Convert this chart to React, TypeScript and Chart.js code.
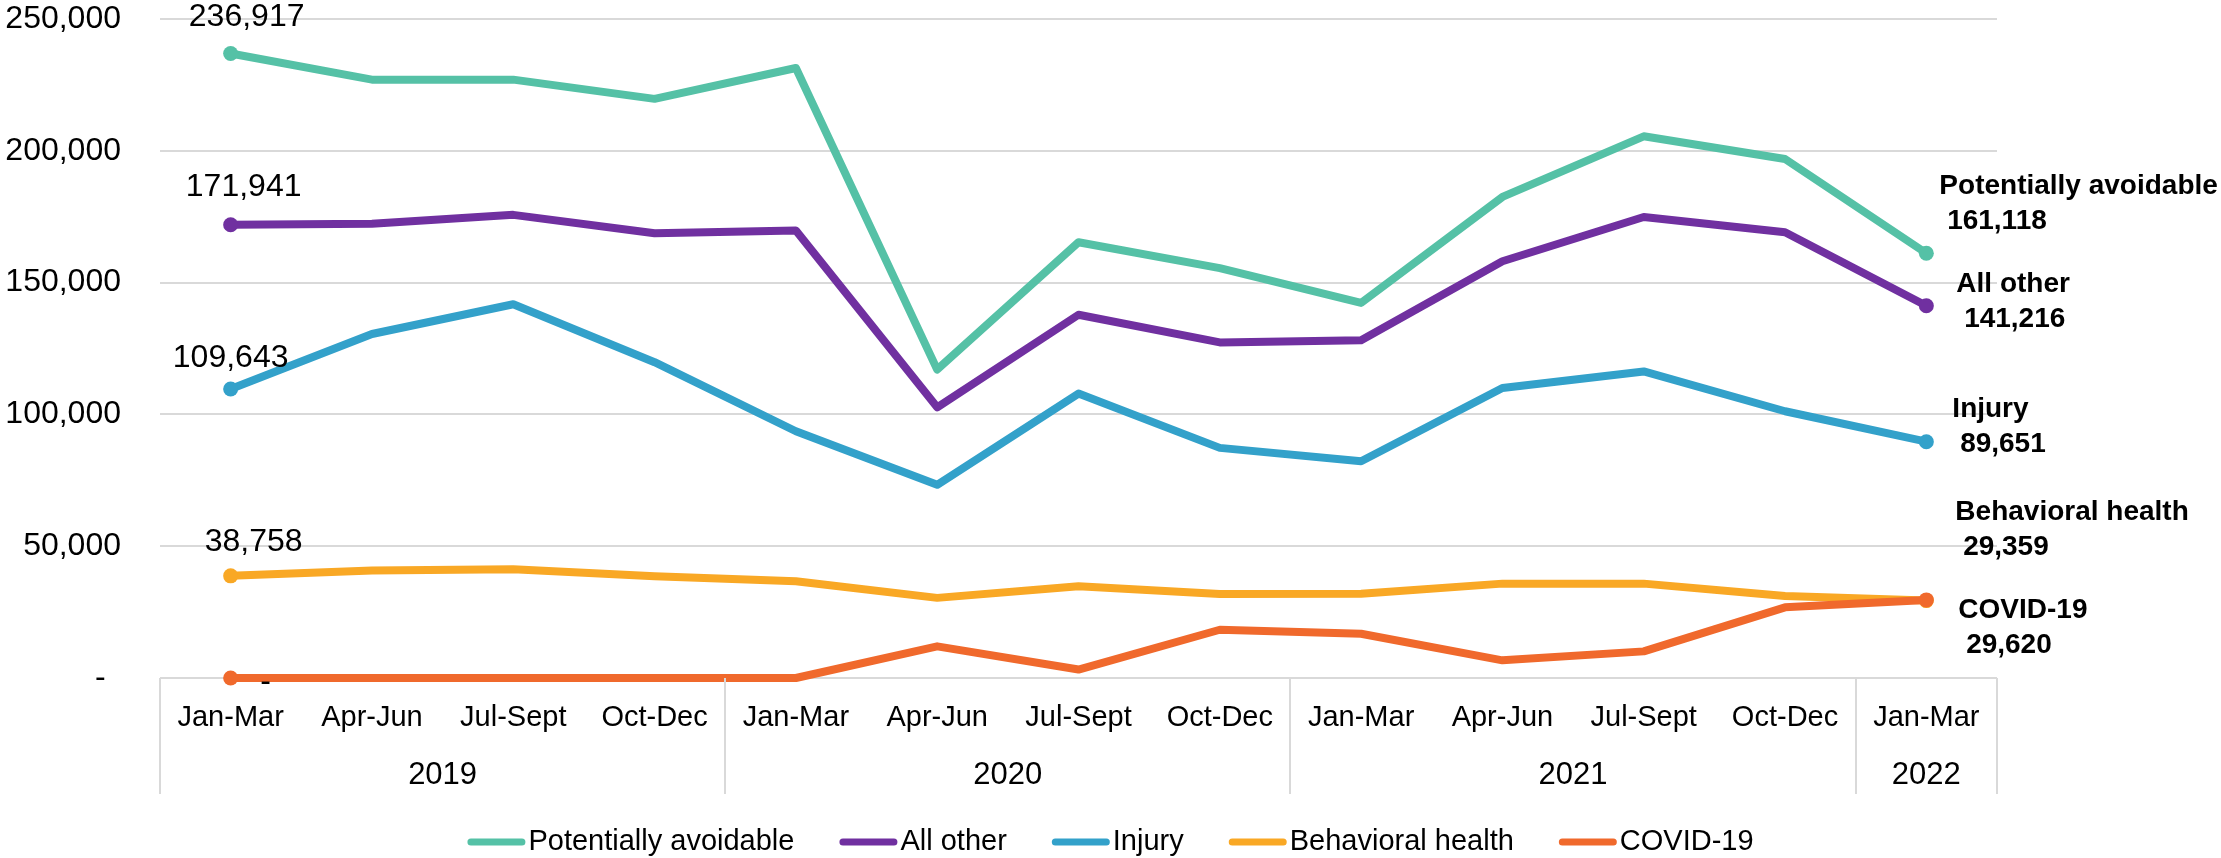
import React, { useEffect, useRef } from 'react';
import { Chart, registerables } from 'chart.js';

Chart.register(...registerables);

// ---------- DATA ----------
const quarters = ['Jan-Mar', 'Apr-Jun', 'Jul-Sept', 'Oct-Dec', 'Jan-Mar', 'Apr-Jun', 'Jul-Sept', 'Oct-Dec', 'Jan-Mar', 'Apr-Jun', 'Jul-Sept', 'Oct-Dec', 'Jan-Mar'];
const years = ['2019', '2020', '2021', '2022'];
const quartersPerYear = [4, 4, 4, 1];

const seriesNames = ['Potentially avoidable', 'All other', 'Injury', 'Behavioral health', 'COVID-19'];
const potentiallyAvoidable = [236917, 227000, 227000, 219700, 231400, 117000, 165300, 155500, 142300, 182500, 205500, 196900, 161118];
const allOther = [171941, 172300, 175700, 168700, 169800, 102700, 137800, 127300, 128100, 158100, 174900, 169100, 141216];
const injury = [109643, 130500, 141800, 119800, 93600, 73300, 107900, 87300, 82200, 110000, 116300, 101200, 89651];
const behavioralHealth = [38758, 40800, 41300, 38600, 36700, 30400, 34800, 31900, 32000, 35800, 35800, 31100, 29359];
const covid19 = [0, 0, 0, 0, 0, 12000, 3200, 18300, 16800, 6700, 10100, 26800, 29620];

const yMin = 0;
const yMax = 250000;
const yStep = 50000;

// ---------- STYLE ----------
const FONT = "'Liberation Sans', Arial, sans-serif";
const colors = ['#55C1A6', '#7030A0', '#33A1CA', '#F9A825', '#F0692C'];
const firstLabelOffsets = [
  { dx: 16, dy: -36 },
  { dx: 13, dy: -38 },
  { dx: 0, dy: -31 },
  { dx: 23, dy: -34 },
  { dx: 35, dy: 4 },
];
const endLabelOffsets = [
  { dx: 13, dy: -67 },
  { dx: 30, dy: -21 },
  { dx: 26, dy: -32 },
  { dx: 29, dy: -88 },
  { dx: 32, dy: 10 },
];

const fmt = (v: number) => (v === 0 ? '-' : v.toLocaleString('en-US'));

const overlayPlugin = {
  id: 'overlay',
  afterDraw(chart: any) {
    const ctx: CanvasRenderingContext2D = chart.ctx;
    const xs = chart.scales.x;
    const area = chart.chartArea;
    ctx.save();

    // group separators under the axis
    ctx.strokeStyle = '#d9d9d9';
    ctx.lineWidth = 2;
    let idx = 0;
    const bounds = [0];
    quartersPerYear.forEach((n) => {
      idx += n;
      bounds.push(idx);
    });
    bounds.forEach((b) => {
      const px = Math.round(xs.getPixelForValue(b - 0.5));
      ctx.beginPath();
      ctx.moveTo(px, area.bottom);
      ctx.lineTo(px, area.bottom + 116);
      ctx.stroke();
    });

    // year labels
    ctx.fillStyle = '#000';
    ctx.font = `31px ${FONT}`;
    ctx.textAlign = 'center';
    ctx.textBaseline = 'middle';
    let start = 0;
    years.forEach((y, i) => {
      const end = start + quartersPerYear[i] - 1;
      const cx = (xs.getPixelForValue(start) + xs.getPixelForValue(end)) / 2;
      ctx.fillText(y, cx, area.bottom + 97);
      start = end + 1;
    });

    // first-point labels
    ctx.font = `32px ${FONT}`;
    chart.data.datasets.forEach((ds: any, i: number) => {
      const meta = chart.getDatasetMeta(i);
      const p = meta.data[0];
      const o = firstLabelOffsets[i];
      ctx.fillText(fmt(ds.data[0]), p.x + o.dx, p.y + o.dy);
    });

    // end labels
    ctx.font = `bold 28px ${FONT}`;
    ctx.textAlign = 'left';
    chart.data.datasets.forEach((ds: any, i: number) => {
      const meta = chart.getDatasetMeta(i);
      const last = ds.data.length - 1;
      const p = meta.data[last];
      const o = endLabelOffsets[i];
      ctx.fillText(ds.label, p.x + o.dx, p.y + o.dy);
      ctx.fillText(' ' + fmt(ds.data[last]), p.x + o.dx, p.y + o.dy + 35);
    });

    // legend
    ctx.font = `29px ${FONT}`;
    const boxW = 58;
    const gapBox = 3;
    const gapItem = 45;
    const widths = seriesNames.map((n) => ctx.measureText(n).width);
    const total = widths.reduce((a, w) => a + boxW + gapBox + w, 0) + gapItem * (seriesNames.length - 1);
    let lx = chart.width / 2 - total / 2;
    const ly = 842;
    seriesNames.forEach((n, i) => {
      ctx.strokeStyle = colors[i];
      ctx.lineWidth = 7;
      ctx.lineCap = 'round';
      ctx.beginPath();
      ctx.moveTo(lx + 3.5, ly);
      ctx.lineTo(lx + boxW - 3.5, ly);
      ctx.stroke();
      ctx.fillStyle = '#000';
      ctx.fillText(n, lx + boxW + gapBox, ly);
      lx += boxW + gapBox + widths[i] + gapItem;
    });

    ctx.restore();
  },
};

export default function App() {
  const ref = useRef<HTMLCanvasElement | null>(null);

  useEffect(() => {
    document.body.style.margin = '0';
    const canvas = ref.current;
    if (!canvas) return;
    const seriesData = [potentiallyAvoidable, allOther, injury, behavioralHealth, covid19];
    const last = quarters.length - 1;
    const chart = new Chart(canvas, {
      type: 'line',
      data: {
        labels: quarters,
        datasets: seriesData.map((d, i) => ({
          label: seriesNames[i],
          data: d,
          borderColor: colors[i],
          backgroundColor: colors[i],
          borderWidth: 8,
          borderJoinStyle: 'round',
          pointRadius: quarters.map((_, j) => (j === 0 || j === last ? 7.5 : 0)),
          pointBackgroundColor: colors[i],
          pointBorderWidth: 0,
          pointHoverRadius: 0,
          tension: 0,
          clip: false,
          order: i === 4 ? -1 : 0,
        })),
      },
      options: {
        responsive: false,
        animation: false,
        events: [],
        layout: { padding: { left: 0, right: 224, top: 0, bottom: 0 } },
        plugins: {
          legend: { display: false },
          tooltip: { enabled: false },
        },
        scales: {
          x: {
            type: 'category',
            offset: true,
            grid: { display: false, drawTicks: false },
            border: { display: false },
            ticks: {
              color: '#000',
              font: { family: FONT, size: 29 },
              padding: 23,
              maxRotation: 0,
              autoSkip: false,
            },
            afterFit: (s: any) => {
              s.height = 180;
              s.paddingLeft = 0;
              s.paddingRight = 0;
            },
          },
          y: {
            min: yMin,
            max: yMax,
            grid: { color: '#d9d9d9', lineWidth: 2, drawTicks: false },
            border: { display: false },
            ticks: {
              stepSize: yStep,
              color: '#000',
              padding: 39,
              font: { family: FONT, size: 32 },
              callback: (v: any) => (Number(v) === 0 ? '- \u2009' : Number(v).toLocaleString('en-US')),
            },
            afterFit: (s: any) => {
              s.width = 160;
              s.paddingTop = 19;
              s.paddingBottom = 0;
            },
          },
        },
      } as any,
      plugins: [overlayPlugin],
    });
    return () => chart.destroy();
  }, []);

  return <canvas ref={ref} width={2221} height={858} style={{ display: 'block' }} />;
}
